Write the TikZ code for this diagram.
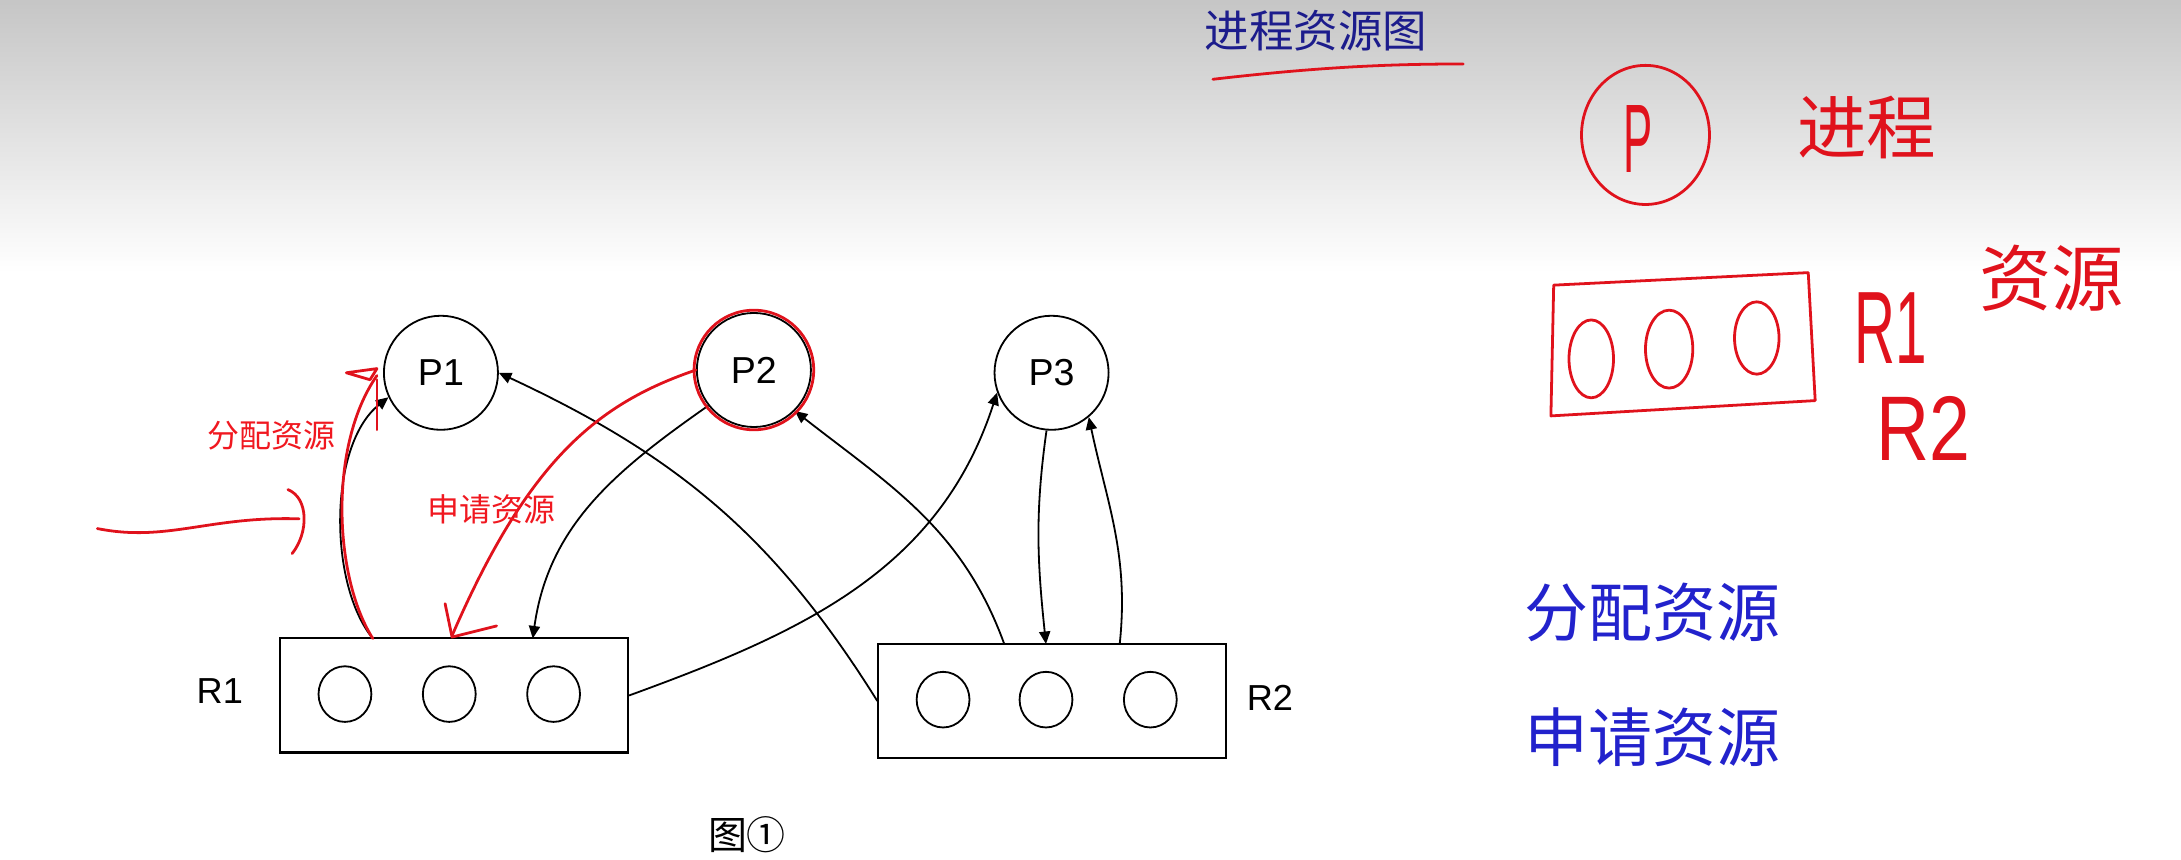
\documentclass[tikz,border=0pt]{standalone}
\usepackage{fontspec}
\setmainfont{Liberation Sans}
\newfontfamily\cjk{Noto Sans CJK SC}
\newfontfamily\handR[FakeStretch=0.55]{Liberation Sans}
\newfontfamily\handRR[FakeStretch=0.8]{Liberation Sans}
\newfontfamily\handP[FakeStretch=0.45]{Liberation Sans}
\usetikzlibrary{arrows.meta}
\definecolor{penred}{HTML}{E0121C}
\definecolor{txtred}{HTML}{F01820}
\definecolor{penblue}{HTML}{2222CC}
\definecolor{titleblue}{HTML}{1C1C8C}

\begin{document}
\begin{tikzpicture}[x=1pt, y=1pt, >={Triangle[length=9pt,width=8pt]},
  proc/.style={draw, circle, line width=1.3pt, minimum size=82pt, inner sep=0pt, font=\fontsize{27}{27}\selectfont},
  res/.style={draw, rectangle, line width=1.5pt, minimum width=250pt, minimum height=82pt, inner sep=0pt},
  edge/.style={->, line width=1.3pt},
  redpen/.style={penred, line width=2pt, line cap=round, line join=round},
  note/.style={txtred, font=\cjk\fontsize{23}{23}\selectfont},
  bluehand/.style={penblue, font=\cjk\fontsize{46}{46}\selectfont}]
\useasboundingbox (0,0) rectangle (1568,-618);
% screen background
\shade[top color=gray!45, bottom color=white] (0,0) rectangle (1568,-196);

% processes and resources
\node[proc] (P1) at (317,-268) {P1};
\node[proc] (P2) at (542,-266) {P2};
\node[proc] (P3) at (756,-268) {P3};
\node[res] (R1) at (326.5,-500) {};
\node[res] (R2) at (756.5,-504) {};
\node[font=\fontsize{26}{26}\selectfont] (R1lab) at (158,-497) {R1};
\node[font=\fontsize{26}{26}\selectfont] (R2lab) at (913,-502) {R2};
\foreach \x in {248, 323, 398} {
    \draw[line width=1.3pt] (\x,-499) ellipse [x radius=19pt, y radius=20pt];
}
\foreach \x in {678, 752, 827} {
    \draw[line width=1.3pt] (\x,-503) ellipse [x radius=19pt, y radius=20pt];
}
\node[font=\cjk\fontsize{28}{28}\selectfont] (cap) at (537,-600) {图①};

% edge end points
\coordinate (r1a) at (268,-459);
\coordinate (r1b) at (383,-459);
\coordinate (r1c) at (325,-457);
\coordinate (r2a) at (722,-463);
\coordinate (r2b) at (752,-463);
\coordinate (r2c) at (805,-463);

% edges
\draw[edge] (r1a) .. controls (236,-420) and (236,-320) .. (P1.205);
\draw[edge] (R2.west) to[out=122, in=-25] (P1.east);
\draw[edge] (r2a) to[out=110, in=-38] (P2.-45);
\draw[edge] (P2.218) to[out=215, in=82] (r1b);
\draw[edge] (R1.east) to[out=20, in=-108] (P3.200);
\draw[edge] (P3.-95) to[out=-98, in=96] (r2b);
\draw[edge] (r2c) to[out=84, in=-78] (P3.-50);

% red marks on the diagram
\draw[redpen] (P2) circle [radius=43pt];
\draw[redpen] (r1a) .. controls (240,-415) and (236,-320) .. (271,-270);
\draw[redpen] (249,-268) -- (271,-265) -- (266,-273) -- cycle;
\draw[redpen] (271,-273) -- (271,-309);
\draw[redpen] (P2.west) .. controls (430,-290) and (380,-330) .. (r1c);
\draw[redpen] (320,-434) -- (325,-458) -- (357,-450);
\coordinate (pointer) at (70,-380);
\draw[redpen] (pointer) .. controls (120,-390) and (150,-371) .. (215,-373);
\draw[redpen] (207,-352) .. controls (222,-358) and (222,-383) .. (210,-398);
\node[note] (alloc) at (195,-313) {分配资源};
\node[note] (req) at (353,-366) {申请资源};

% title
\node[titleblue, font=\cjk\fontsize{32}{32}\selectfont] (title) at (946,-22) {进程资源图};
\draw[redpen] (872,-57) .. controls (950,-48) and (1000,-46) .. (1052,-46);

% legend
\draw[redpen] (1183,-97) ellipse [x radius=46pt, y radius=50pt];
\node[penred, font=\handP\fontsize{70}{70}\selectfont] (Pl) at (1178,-100) {P};
\node[penred, font=\cjk\fontsize{50}{50}\selectfont] (proc) at (1342,-92) {进程};
\draw[redpen] (1117,-205) -- (1300,-196) -- (1305,-288) -- (1115,-299) -- cycle;
\draw[redpen] (1144,-258) ellipse [x radius=16pt, y radius=28pt];
\draw[redpen] (1200,-251) ellipse [x radius=17pt, y radius=28pt];
\draw[redpen] (1263,-243) ellipse [x radius=16pt, y radius=26pt];
\node[penred, font=\handR\fontsize{74}{74}\selectfont] (Rl1) at (1359,-236) {R1};
\node[penred, font=\handRR\fontsize{66}{66}\selectfont] (Rl2) at (1383,-308) {R2};
\node[penred, font=\cjk\fontsize{52}{52}\selectfont] (resl) at (1475,-200) {资源};
\node[bluehand] (allocb) at (1188,-440) {分配资源};
\node[bluehand] (reqb) at (1188,-530) {申请资源};
\end{tikzpicture}
\end{document}
